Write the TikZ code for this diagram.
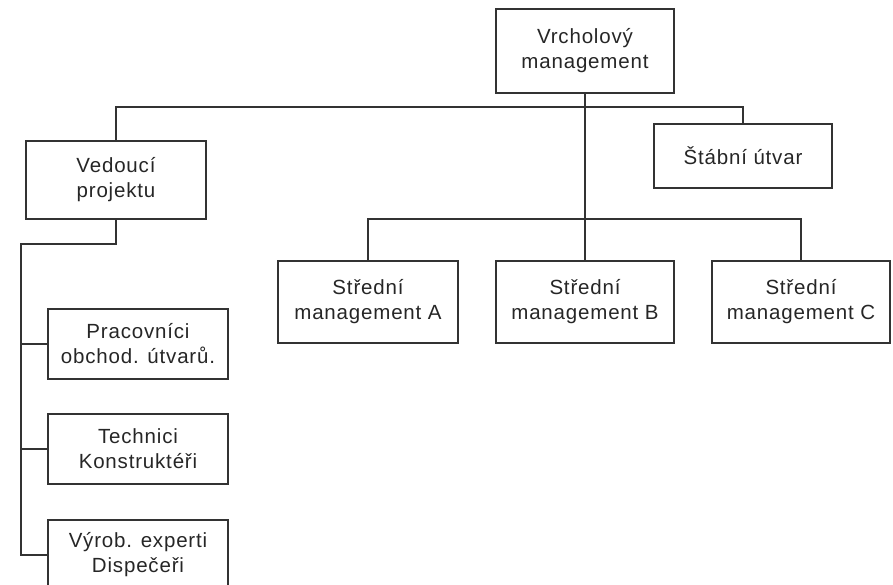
\documentclass[tikz,border=0pt]{standalone}
\usepackage{fontspec}
\setmainfont{Liberation Sans}[LetterSpace=4]
\begin{document}
\begin{tikzpicture}[x=1pt, y=-1pt, line width=1.3pt,
    every node/.style={font=\fontsize{20.5}{25}\selectfont, text=black!85},
    box/.style={draw=black!80, align=center, inner sep=0pt, minimum width=178pt},
    link/.style={draw=black!80}]

    \useasboundingbox (0,0) rectangle (893,584);

    % Top level
    \node[box, minimum height=84pt] (vrchol) at (585,51) {Vrcholov\'y\\management};

    % Second level: project lead and staff unit
    \node[box, minimum height=78pt, minimum width=180pt] (vedouci) at (116,180) {Vedouc\'i\\projektu};
    \node[box, minimum height=64pt] (stabni) at (743,156) {\v{S}t\'abn\'i \'utvar};

    \coordinate (topbus) at (585,107);
    \draw[link] (vedouci.north) |- (topbus) -| (stabni.north);

    % Middle management
    \node[box, minimum height=82pt, minimum width=180pt] (stredA) at (368,302) {St\v{r}edn\'i\\management A};
    \node[box, minimum height=82pt] (stredB) at (585,302) {St\v{r}edn\'i\\management B};
    \node[box, minimum height=82pt] (stredC) at (801,302) {St\v{r}edn\'i\\management C};

    \draw[link] (vrchol.south) -- (stredB.north);
    \coordinate (midbus) at (585,219);
    \draw[link] (stredA.north) |- (midbus) -| (stredC.north);

    % Project team
    \node[box, minimum height=70pt, minimum width=180pt] (pracovnici) at (138,344) {Pracovn\'ici\\obchod. \'utvar\r{u}.};
    \node[box, minimum height=70pt, minimum width=180pt] (technici) at (138,449) {Technici\\Konstrukt\'e\v{r}i};
    \node[box, minimum height=70pt, minimum width=180pt] (vyrob) at (138,555) {V\'yrob. experti\\Dispe\v{c}e\v{r}i};

    \coordinate (leftbus) at (21,244);
    \draw[link] (vedouci.south) |- (leftbus) |- (vyrob.west);
    \draw[link] (leftbus |- pracovnici.west) -- (pracovnici.west);
    \draw[link] (leftbus |- technici.west) -- (technici.west);

\end{tikzpicture}
\end{document}
